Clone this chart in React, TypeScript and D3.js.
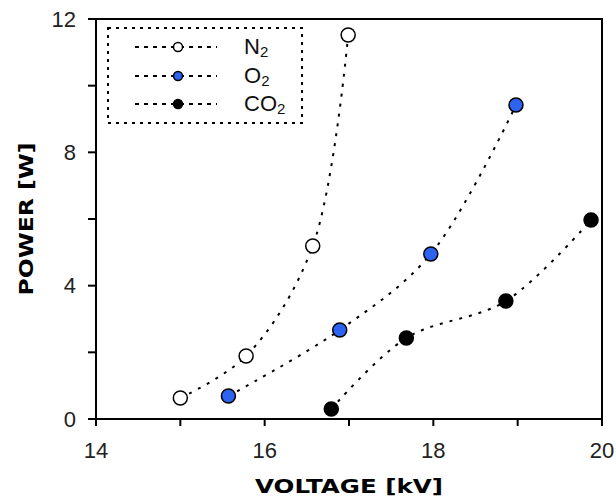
import React from "react";
import * as d3 from "d3";

const n2Voltage = [15.0, 15.78, 16.57, 16.99];
const n2Power = [0.63, 1.89, 5.19, 11.52];
const o2Voltage = [15.57, 16.89, 17.97, 18.98];
const o2Power = [0.69, 2.67, 4.95, 9.42];
const co2Voltage = [16.79, 17.68, 18.86, 19.87];
const co2Power = [0.3, 2.43, 3.54, 5.97];

const xMajorTicks = [14, 16, 18, 20];
const xMinorTicks = [15, 17, 19];
const yMajorTicks = [0, 4, 8, 12];
const yMinorTicks = [2, 6, 10];

const seriesNames = ["N", "O", "CO"];

const W = 616;
const H = 502;
const left = 96;
const right = 602;
const top = 19;
const bottom = 419;

export default function App() {
  const x = d3.scaleLinear().domain([14, 20]).range([left, right]);
  const y = d3.scaleLinear().domain([0, 12]).range([bottom, top]);

  const series = [
    { name: seriesNames[0], xs: n2Voltage, ys: n2Power, fill: "#ffffff" },
    { name: seriesNames[1], xs: o2Voltage, ys: o2Power, fill: "#2e62f0" },
    { name: seriesNames[2], xs: co2Voltage, ys: co2Power, fill: "#000000" },
  ];

  const line = d3
    .line<[number, number]>()
    .x((d) => x(d[0]))
    .y((d) => y(d[1]))
    .curve(d3.curveCatmullRom.alpha(0.5));

  const legendX = 108;
  const legendY = 28;
  const legendW = 194;
  const legendH = 95;
  const rowY = [47, 76, 104];

  return (
    <svg
      width={W}
      height={H}
      style={{ position: "absolute", left: 0, top: 0, background: "#fff" }}
      fontFamily="Liberation Sans, Arial, sans-serif"
    >
      {/* lines */}
      {series.map((s, i) => (
        <path
          key={"l" + i}
          d={line(s.xs.map((v, j) => [v, s.ys[j]] as [number, number])) || ""}
          fill="none"
          stroke="#000"
          strokeWidth={2}
          strokeDasharray="3,7"
        />
      ))}
      {/* markers */}
      {series.map((s, i) =>
        s.xs.map((v, j) => (
          <circle
            key={"m" + i + "-" + j}
            cx={x(v)}
            cy={y(s.ys[j])}
            r={7}
            fill={s.fill}
            stroke="#000"
            strokeWidth={1.5}
          />
        ))
      )}
      {/* frame */}
      <rect
        x={left}
        y={top}
        width={right - left}
        height={bottom - top}
        fill="none"
        stroke="#000"
        strokeWidth={2}
      />
      {/* x ticks */}
      {xMajorTicks.concat(xMinorTicks).map((t) => (
        <line key={"xt" + t} x1={x(t)} x2={x(t)} y1={bottom} y2={bottom + 7} stroke="#000" strokeWidth={2} />
      ))}
      {xMajorTicks.map((t) => (
        <text key={"xl" + t} x={x(t)} y={458} textAnchor="middle" fontSize={22} fill="#222">
          {t}
        </text>
      ))}
      {/* y ticks */}
      {yMajorTicks.concat(yMinorTicks).map((t) => (
        <line key={"yt" + t} x1={left - 8} x2={left} y1={y(t)} y2={y(t)} stroke="#000" strokeWidth={2} />
      ))}
      {yMajorTicks.map((t) => (
        <text key={"yl" + t} x={76} y={y(t)} dy="0.35em" textAnchor="end" fontSize={22} fill="#222">
          {t}
        </text>
      ))}
      {/* axis titles */}
      <text
        x={(left + right) / 2}
        y={493}
        textAnchor="middle"
        fontFamily="DejaVu Sans, Verdana, sans-serif"
        fontWeight="bold"
        fontSize={20}
        textLength={188}
        lengthAdjust="spacingAndGlyphs"
        fill="#000"
      >
        VOLTAGE [kV]
      </text>
      <text
        transform={`translate(33, ${(top + bottom) / 2}) rotate(-90)`}
        textAnchor="middle"
        fontFamily="DejaVu Sans, Verdana, sans-serif"
        fontWeight="bold"
        fontSize={20}
        textLength={153}
        lengthAdjust="spacingAndGlyphs"
        fill="#000"
      >
        POWER [W]
      </text>
      {/* legend */}
      <rect
        x={legendX}
        y={legendY}
        width={legendW}
        height={legendH}
        fill="#fff"
        stroke="#000"
        strokeWidth={2}
        strokeDasharray="3,5"
      />
      {series.map((s, i) => (
        <g key={"lg" + i}>
          <line x1={135} x2={217} y1={rowY[i]} y2={rowY[i]} stroke="#000" strokeWidth={2} strokeDasharray="4,5" />
          <circle cx={178} cy={rowY[i]} r={4.5} fill={s.fill} stroke="#000" strokeWidth={1.5} />
          <text x={244} y={rowY[i] + 7} fontSize={22} fill="#111">
            {s.name}
            <tspan fontSize={15} dy={3}>2</tspan>
          </text>
        </g>
      ))}
    </svg>
  );
}
